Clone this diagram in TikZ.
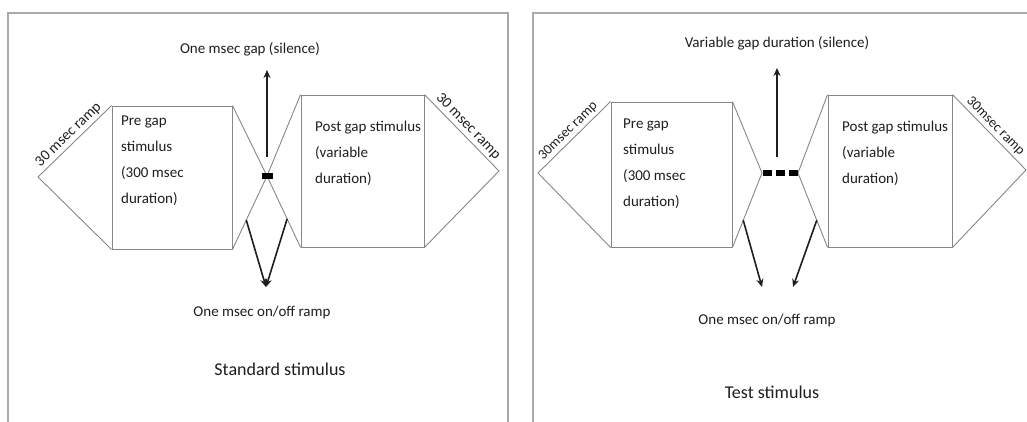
\documentclass[tikz,border=0pt]{standalone}
\usepackage{fontspec}
\setmainfont{Carlito}
\usetikzlibrary{arrows.meta,positioning,calc}
\definecolor{edgegray}{RGB}{135,135,135}
\definecolor{framegray}{RGB}{170,170,170}
\definecolor{ink}{RGB}{30,30,30}
\tikzset{
  stimbox/.style 2 args={rectangle,draw=edgegray,line width=0.9pt,
              inner sep=0pt,minimum width=#1,minimum height=#2},
  boxtext/.style={anchor=north west,inner sep=0pt,align=left,text=ink,
              font=\fontsize{15}{26}\selectfont},
  ramptext/.style={sloped,above,inner sep=2.5pt,text=ink,
              font=\fontsize{#1}{#1}\selectfont},
  ramptext/.default=15,
  note/.style={inner sep=0pt,text=ink,font=\fontsize{15}{18}\selectfont},
  caption/.style={inner sep=0pt,text=ink,font=\fontsize{18}{22}\selectfont},
  ramp/.style={draw=edgegray,line width=0.9pt},
  frame/.style={draw=framegray,line width=1.2pt},
  ptr/.style={-{Stealth[length=8pt,width=7pt]},line width=1.6pt,ink},
  gapmark/.style={rectangle,fill=black,inner sep=0pt,
              minimum width=#1,minimum height=6pt},
  gapmark/.default=11pt,
}

\begin{document}
\begin{tikzpicture}[x=1pt,y=-1pt]
    \useasboundingbox (0,0) rectangle (1027,422);

    % Frames
    \draw[frame] (8,422) -- (8,13) -- (508,13) -- (508,422);
    \draw[frame] (533,422) -- (533,13) -- (1027,13);

    % ---------------- Standard stimulus ----------------
    \node[stimbox={120pt}{143pt}] (preL) at (172,177.5) {};
    \node[boxtext] (preLtext) at (121,116) {Pre gap\\stimulus\\(300 msec\\duration)};
    \node[stimbox={123pt}{152pt}] (postL) at (362.5,171) {};
    \node[boxtext] (postLtext) at (315,121) {Post gap stimulus\\(variable\\duration)};

    \coordinate (ltipL) at (38,177);
    \coordinate (rtipL) at (499,171);
    \coordinate (gapL) at (267,176);

    % Ramps
    \draw[ramp] (preL.south west) -- (ltipL) -- node[ramptext] {30 msec ramp} (preL.north west);
    \draw[ramp] (postL.north east) -- node[ramptext] {30 msec ramp} (rtipL) -- (postL.south east);
    \draw[ramp] (preL.north east) -- (gapL) -- (preL.south east);
    \draw[ramp] (postL.north west) -- (gapL) -- (postL.south west);
    \node[gapmark] (gapmarkL) at (gapL) {};

    % Gap label
    \node[note] (gapnoteL) at (250,49) {One msec gap (silence)};
    \coordinate (upfootL) at (267,157);
    \coordinate (uptipL) at (267,70);
    \draw[ptr] (upfootL) -- (uptipL);

    % On/off ramp label
    \node[note] (rampnoteL) at (262,312) {One msec on/off ramp};
    \coordinate (rampheadL) at (266,287);
    \draw[ptr] ($(gapL)!0.6!(preL.south east)$) -- (rampheadL);
    \draw[ptr] ($(gapL)!0.6!(postL.south west)$) -- (rampheadL);

    \node[caption] (captionL) at (280,369) {Standard stimulus};

    % ---------------- Test stimulus ----------------
    \node[stimbox={121pt}{145pt}] (preR) at (671.5,174.5) {};
    \node[boxtext] (preRtext) at (623,119) {Pre gap\\stimulus\\(300 msec\\duration)};
    \node[stimbox={124pt}{152pt}] (postR) at (890,171) {};
    \node[boxtext] (postRtext) at (842,121) {Post gap stimulus\\(variable\\duration)};

    \coordinate (ltipR) at (538,173);
    \coordinate (rtipR) at (1026,170);
    \coordinate (gapRa) at (762,173);
    \coordinate (gapRb) at (798,173);

    % Ramps
    \draw[ramp] (preR.south west) -- (ltipR) -- node[ramptext=14] {30msec ramp} (preR.north west);
    \draw[ramp] (postR.north east) -- node[ramptext=14] {30msec ramp} (rtipR) -- (postR.south east);
    \draw[ramp] (preR.north east) -- (gapRa) -- (preR.south east);
    \draw[ramp] (postR.north west) -- (gapRb) -- (postR.south west);
    \foreach \x [count=\i] in {767,780,793}
        \node[gapmark=9pt] (dashR\i) at (\x,173) {};

    % Gap label
    \node[note] (gapnoteR) at (777,43) {Variable gap duration (silence)};
    \coordinate (upfootR) at (777,157);
    \coordinate (uptipR) at (777,68);
    \draw[ptr] (upfootR) -- (uptipR);

    % On/off ramp label
    \node[note] (rampnoteR) at (767,320) {One msec on/off ramp};
    \coordinate (rampheadRa) at (762,287);
    \coordinate (rampheadRb) at (793,287);
    \draw[ptr] ($(gapRa)!0.635!(preR.south east)$) -- (rampheadRa);
    \draw[ptr] ($(gapRb)!0.635!(postR.south west)$) -- (rampheadRb);

    \node[caption] (captionR) at (772,392) {Test stimulus};

  \end{tikzpicture}
\end{document}
